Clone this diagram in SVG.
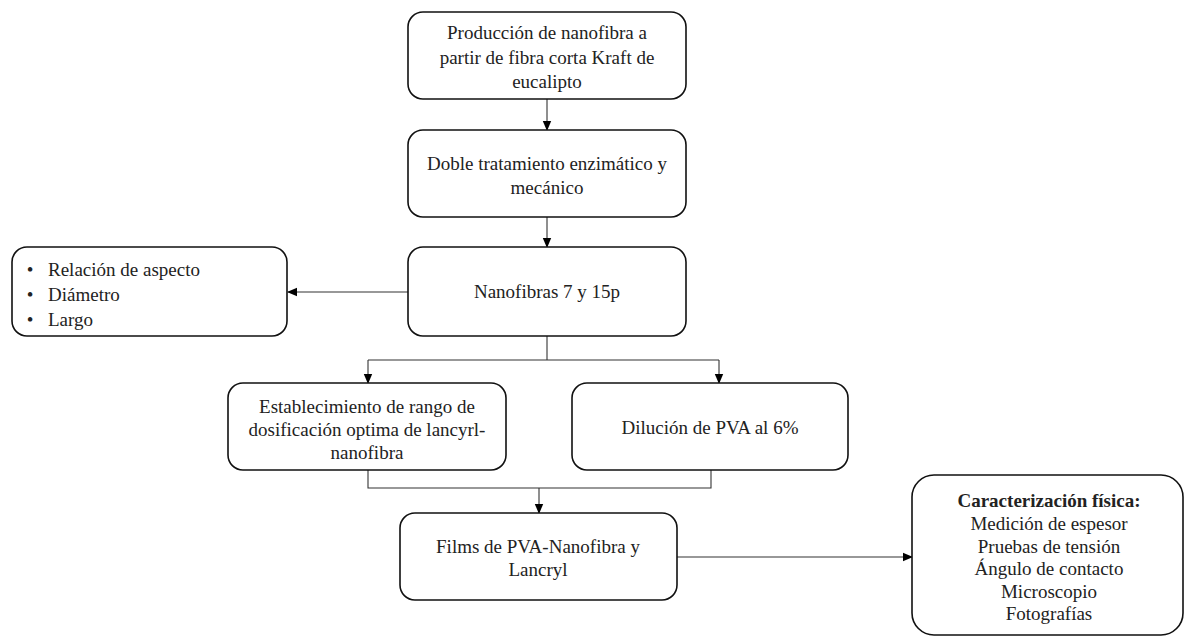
<svg xmlns="http://www.w3.org/2000/svg" width="1184" height="637" viewBox="0 0 1184 637">
<defs>
<style>
.box{fill:#fff;stroke:#111;stroke-width:1.6}
.t{font-family:"Liberation Serif","Times New Roman",serif;font-size:19px;fill:#222;text-anchor:middle}
.l{text-anchor:start}
.b{font-weight:bold}
.c{fill:none;stroke:#333;stroke-width:1.1}
</style>
<marker id="ah" markerWidth="10" markerHeight="10" refX="9" refY="5" orient="auto" markerUnits="userSpaceOnUse">
<path d="M0,0.8 L10,5 L0,9.2 z" fill="#000"/>
</marker>
</defs>
<rect width="1184" height="637" fill="#fff"/>
<g id="connectors">
<line class="c" x1="547" y1="99" x2="547" y2="130" marker-end="url(#ah)"/>
<line class="c" x1="547" y1="217" x2="547" y2="247" marker-end="url(#ah)"/>
<line class="c" x1="408" y1="292" x2="288" y2="292" marker-end="url(#ah)"/>
<line class="c" x1="547" y1="336" x2="547" y2="360"/>
<line class="c" x1="368" y1="360" x2="719" y2="360"/>
<line class="c" x1="368" y1="360" x2="368" y2="383" marker-end="url(#ah)"/>
<line class="c" x1="719" y1="360" x2="719" y2="383" marker-end="url(#ah)"/>
<polyline class="c" points="368,470 368,488 711,488 711,470"/>
<line class="c" x1="539" y1="488" x2="539" y2="513" marker-end="url(#ah)"/>
<line class="c" x1="677" y1="557" x2="912" y2="557" marker-end="url(#ah)"/>
</g>
<g id="n1">
<rect class="box" x="408" y="12" width="278" height="87" rx="15"/>
<text class="t" x="547" y="39">Producción de nanofibra a</text>
<text class="t" x="547" y="63.5">partir de fibra corta Kraft de</text>
<text class="t" x="547" y="88">eucalipto</text>
</g>
<g id="n2">
<rect class="box" x="408" y="130" width="278" height="87" rx="15"/>
<text class="t" x="547" y="170">Doble tratamiento enzimático y</text>
<text class="t" x="547" y="194">mecánico</text>
</g>
<g id="n3">
<rect class="box" x="408" y="247" width="278" height="89" rx="15"/>
<text class="t" x="547" y="298">Nanofibras 7 y 15p</text>
</g>
<g id="n4">
<rect class="box" x="12" y="247" width="275" height="89" rx="15"/>
<text class="t" x="30" y="276">•</text>
<text class="t" x="30" y="301">•</text>
<text class="t" x="30" y="326">•</text>
<text class="t l" x="48" y="276">Relación de aspecto</text>
<text class="t l" x="48" y="301">Diámetro</text>
<text class="t l" x="48" y="326">Largo</text>
</g>
<g id="n5">
<rect class="box" x="228" y="383" width="278" height="87" rx="15"/>
<text class="t" x="367" y="413">Establecimiento de rango de</text>
<text class="t" x="367" y="436">dosificación optima de lancyrl-</text>
<text class="t" x="367" y="459">nanofibra</text>
</g>
<g id="n6">
<rect class="box" x="572" y="383" width="276" height="87" rx="15"/>
<text class="t" x="710" y="434">Dilución de PVA al 6%</text>
</g>
<g id="n7">
<rect class="box" x="400" y="513" width="277" height="87" rx="15"/>
<text class="t" x="538" y="553">Films de PVA-Nanofibra y</text>
<text class="t" x="538" y="576">Lancryl</text>
</g>
<g id="n8">
<rect class="box" x="912" y="475" width="271" height="160" rx="22"/>
<text class="t b" x="1049" y="507">Caracterización física:</text>
<text class="t" x="1049" y="530">Medición de espesor</text>
<text class="t" x="1049" y="552.5">Pruebas de tensión</text>
<text class="t" x="1049" y="575">Ángulo de contacto</text>
<text class="t" x="1049" y="597.5">Microscopio</text>
<text class="t" x="1049" y="620">Fotografías</text>
</g>
</svg>
